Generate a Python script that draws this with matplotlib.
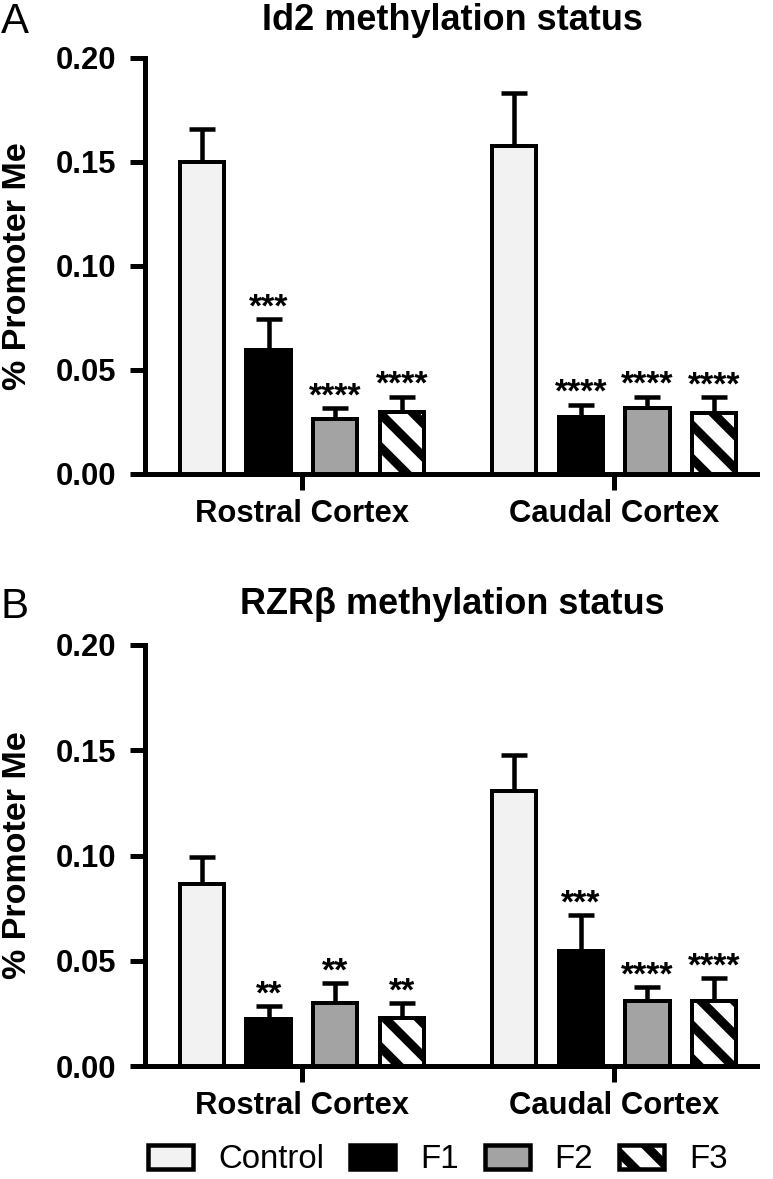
import numpy as np
import matplotlib
matplotlib.use('Agg')
import matplotlib.pyplot as plt
from matplotlib.patches import Patch

# data
groups = ['Rostral Cortex', 'Caudal Cortex']
series = ['Control', 'F1', 'F2', 'F3']

id2_mean = [[0.150, 0.0595, 0.0264, 0.0298],
            [0.1577, 0.0274, 0.0315, 0.0295]]
id2_top = [[0.166, 0.0744, 0.0315, 0.0372],
           [0.1832, 0.0332, 0.0372, 0.0368]]
id2_stars = [['', '***', '****', '****'],
             ['', '****', '****', '****']]

rzr_mean = [[0.0863, 0.0224, 0.0298, 0.0227],
            [0.1308, 0.0546, 0.0307, 0.0307]]
rzr_top = [[0.0991, 0.0284, 0.0392, 0.0298],
           [0.1479, 0.0715, 0.0375, 0.0417]]
rzr_stars = [['', '**', '**', '**'],
             ['', '***', '****', '****']]

yticks = [0.00, 0.05, 0.10, 0.15, 0.20]
ytick_labels = ['0.00', '0.05', '0.10', '0.15', '0.20']

fills = ['#f2f2f2', '#000000', '#a3a3a3', '#ffffff']
hatches = [None, None, None, '\\\\']

DPI = 200
W, H = 773, 1179


def pt(px):
    return px * 72.0 / DPI


plt.rcParams['font.family'] = ['Liberation Sans', 'DejaVu Sans']
plt.rcParams['hatch.linewidth'] = pt(9)
plt.rcParams['hatch.color'] = 'black'

fig = plt.figure(figsize=(W / DPI, H / DPI), dpi=DPI)

spacing = 0.2137
width = 0.142


def panel(top_px, bottom_px, means, tops, stars, title, letter, title_px, letter_px):
    ax = fig.add_axes([145 / W, 1 - bottom_px / H, (757 - 145) / W, (bottom_px - top_px) / H])
    for g in range(len(groups)):
        for s in range(len(series)):
            x = g + (s - 1.5) * spacing
            m = means[g][s]
            err = tops[g][s] - m
            ax.errorbar(x, m, yerr=[[0], [err]], color='black', lw=pt(4.5),
                        capsize=pt(13), capthick=pt(4.5), zorder=1)
            ax.bar(x, m, width, color=fills[s], edgecolor='black',
                   linewidth=pt(4), hatch=hatches[s], zorder=2)
            if stars[g][s]:
                ax.annotate(stars[g][s], (x, tops[g][s]), xytext=(0, pt(3)),
                            textcoords='offset points', ha='center', va='baseline',
                            fontsize=pt(34), fontweight='bold')
    ax.set_xlim(-0.503, 1.458)
    ax.set_ylim(0, 0.20)
    ax.set_yticks(yticks)
    ax.set_yticklabels(ytick_labels, fontsize=pt(31), fontweight='bold')
    ax.set_xticks([0, 1])
    ax.set_xticklabels(groups, fontsize=pt(31), fontweight='bold')
    ax.tick_params(axis='y', length=pt(15), width=pt(5), pad=pt(14))
    ax.tick_params(axis='x', length=pt(16), width=pt(5), pad=pt(9))
    for side in ['top', 'right']:
        ax.spines[side].set_visible(False)
    for side in ['left', 'bottom']:
        ax.spines[side].set_linewidth(pt(5))
    fig.text(452 / W, 1 - title_px / H, title, ha='center', va='center',
             fontsize=pt(36), fontweight='bold')
    fig.text(1 / W, 1 - letter_px / H, letter, ha='left', va='baseline',
             fontsize=pt(42))
    fig.text(18 / W, 1 - (top_px + bottom_px) / 2 / H, '% Promoter Me', rotation=90,
             ha='center', va='center', fontsize=pt(34), fontweight='bold')
    return ax


panel(58, 474, id2_mean, id2_top, id2_stars, 'Id2 methylation status', 'A', 21, 33)
panel(645, 1066, rzr_mean, rzr_top, rzr_stars, 'RZRβ methylation status', 'B', 605, 618)

handles = [Patch(facecolor=fills[i], edgecolor='black', linewidth=pt(4.5), hatch=hatches[i])
           for i in range(len(series))]
fig.legend(handles, series, loc='center', bbox_to_anchor=(438 / W, 1 - 1160 / H),
           ncol=4, frameon=False, fontsize=pt(33), handlelength=1.36, handleheight=0.73,
           handletextpad=0.75, columnspacing=0.8, borderpad=0)

fig.savefig('out.png', dpi=DPI)
